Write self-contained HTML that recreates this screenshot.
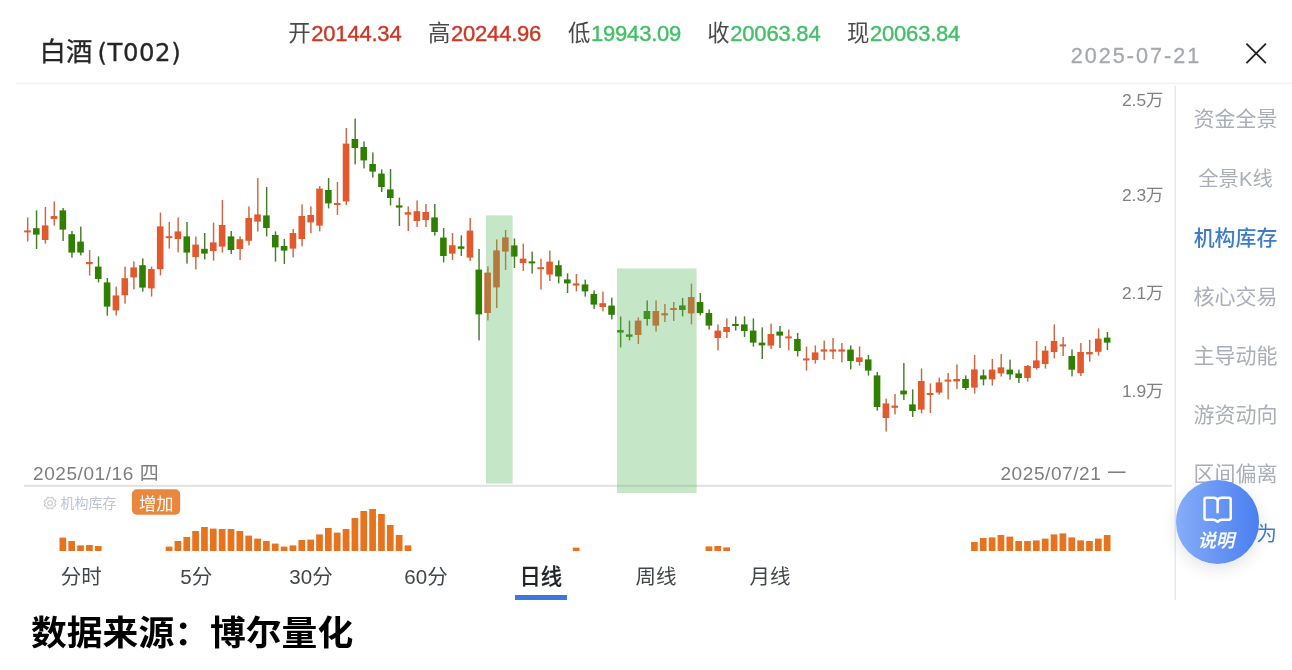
<!DOCTYPE html>
<html lang="zh-CN">
<head>
<meta charset="utf-8">
<title>白酒 (T002)</title>
<style>
html,body{margin:0;padding:0;background:#fff;}
body{width:1292px;height:670px;position:relative;overflow:hidden;font-family:"Liberation Sans", "Noto Sans CJK SC", sans-serif;color:#222;}
.abs{position:absolute;white-space:nowrap;}
.title{left:39.5px;top:34.2px;font-size:26.4px;line-height:36px;color:#262626;-webkit-text-stroke:0.3px #262626;}
.title span{font-family:"DejaVu Sans","Liberation Sans",sans-serif;font-size:24.4px;letter-spacing:0.55px;margin-left:-2.2px;position:relative;top:-0.4px;}
.ohlc{top:18.3px;margin-left:-1px;font-size:22.4px;line-height:32px;color:#4a4a4a;}
.ohlc i{font-style:normal;position:relative;top:-0.8px;}
.ohlc b{font-weight:normal;font-size:22px;letter-spacing:-0.2px;margin-left:0.6px;-webkit-text-stroke:0.4px currentColor;}
.up{color:#CE3623;}
.dn{color:#42C068;}
.date{left:1070.7px;top:40.2px;font-size:21.6px;line-height:32px;letter-spacing:2.0px;color:#A6A9AD;-webkit-text-stroke:0.3px #A6A9AD;}
.ylab{right:128.5px;font-size:17.4px;line-height:20px;color:#808080;text-align:right;}
.dlab{font-size:19px;line-height:24px;letter-spacing:0.58px;color:#7E7E7E;top:462px;}
.side{left:1177.5px;width:116px;text-align:center;font-size:21px;line-height:30px;color:#A9AEB9;}
.side.on{color:#3D7CC9;font-size:20.9px;font-weight:500;}
.last{right:15px;top:519.5px;font-size:20.4px;line-height:28px;color:#3D7DCB;}
.sub{left:60.5px;top:494px;font-size:14px;line-height:18px;color:#B9C4D6;}
.badget{left:132px;top:491.2px;width:48.6px;color:#fff;font-size:17.3px;line-height:26px;text-align:center;}
.tab{top:563px;width:100px;text-align:center;font-size:20.5px;line-height:28px;color:#41464e;}
.tab.on{color:#1f2329;font-size:21.3px;font-weight:500;-webkit-text-stroke:0.2px #1f2329;margin-left:-1.2px;}
.uline{left:515px;top:594.6px;width:52px;height:5.4px;background:#3A78DC;}
.foot{left:31px;top:607.3px;transform:scaleY(0.968);transform-origin:0 43.5px;font-size:35.8px;line-height:52px;font-weight:bold;color:#000;}
.fab{left:1175.8px;top:480px;width:83.4px;height:83.6px;border-radius:50%;background:linear-gradient(90deg,#86ADF9 0%,#4B7FF1 100%);box-shadow:0 5px 16px rgba(40,50,70,0.13);}
.fabt{left:1175.6px;top:528.2px;width:83px;text-align:center;color:#fff;font-size:18.4px;line-height:26px;font-weight:500;transform:skewX(-13deg);-webkit-text-stroke:0.15px #fff;}
svg{position:absolute;left:0;top:0;}
</style>
</head>
<body>
<div class="abs title">白酒 <span>(T002)</span></div>
<div class="abs ohlc" style="left:289.3px"><i>开</i><b class="up">20144.34</b></div>
<div class="abs ohlc" style="left:429px"><i>高</i><b class="up">20244.96</b></div>
<div class="abs ohlc" style="left:569px"><i>低</i><b class="dn">19943.09</b></div>
<div class="abs ohlc" style="left:708.3px"><i>收</i><b class="dn">20063.84</b></div>
<div class="abs ohlc" style="left:848px"><i>现</i><b class="dn">20063.84</b></div>
<div class="abs date">2025-07-21</div>
<svg width="1292" height="670" viewBox="0 0 1292 670">
<g stroke="#222" stroke-width="1.9" stroke-linecap="butt" fill="none">
<line x1="1246.4" y1="43.7" x2="1265.9" y2="63.2"/>
<line x1="1265.9" y1="43.7" x2="1246.4" y2="63.2"/>
</g>
</svg>



<div class="abs ylab" style="top:89.5px">2.5万</div>
<div class="abs ylab" style="top:185px">2.3万</div>
<div class="abs ylab" style="top:283.2px">2.1万</div>
<div class="abs ylab" style="top:381.3px">1.9万</div>

<div class="abs dlab" style="left:33px">2025/01/16 四</div>
<div class="abs dlab" style="right:165.2px">2025/07/21 一</div>


<svg width="1292" height="670" viewBox="0 0 1292 670" shape-rendering="auto">
<rect x="16" y="82.5" width="1276" height="1.7" fill="#F2F3F3"/>
<rect x="24" y="484.8" width="1148" height="2" fill="#E1E1E1"/>
<rect x="1174.6" y="85.5" width="1.3" height="514.5" fill="#E4E5E8"/>
<g id="candles">
<rect x="26.97" y="217.4" width="1.45" height="24" fill="#CE6745"/>
<rect x="24.15" y="230.4" width="6.6" height="2" fill="#E2592D"/>
<rect x="35.82" y="210.4" width="1.45" height="38.6" fill="#437F2A"/>
<rect x="33" y="228.2" width="6.6" height="6.4" fill="#2F8000"/>
<rect x="44.67" y="207" width="1.45" height="36.6" fill="#CE6745"/>
<rect x="41.85" y="225.4" width="6.6" height="14.6" fill="#E2592D"/>
<rect x="53.52" y="201.4" width="1.45" height="24.2" fill="#CE6745"/>
<rect x="50.7" y="216" width="6.6" height="3" fill="#E2592D"/>
<rect x="62.37" y="208" width="1.45" height="33" fill="#437F2A"/>
<rect x="59.55" y="210.4" width="6.6" height="19.2" fill="#2F8000"/>
<rect x="71.23" y="231" width="1.45" height="26.6" fill="#437F2A"/>
<rect x="68.4" y="234.2" width="6.6" height="18.4" fill="#2F8000"/>
<rect x="80.08" y="226.6" width="1.45" height="28.8" fill="#437F2A"/>
<rect x="77.25" y="241.6" width="6.6" height="11" fill="#2F8000"/>
<rect x="88.92" y="250" width="1.45" height="25.6" fill="#CE6745"/>
<rect x="86.1" y="262" width="6.6" height="2.2" fill="#E2592D"/>
<rect x="97.78" y="256.4" width="1.45" height="26" fill="#437F2A"/>
<rect x="94.95" y="266.6" width="6.6" height="12.4" fill="#2F8000"/>
<rect x="106.62" y="278" width="1.45" height="37.6" fill="#437F2A"/>
<rect x="103.8" y="282.4" width="6.6" height="24.2" fill="#2F8000"/>
<rect x="115.48" y="286.6" width="1.45" height="29" fill="#CE6745"/>
<rect x="112.65" y="295.4" width="6.6" height="15" fill="#E2592D"/>
<rect x="124.33" y="266.6" width="1.45" height="37" fill="#CE6745"/>
<rect x="121.5" y="278.2" width="6.6" height="17" fill="#E2592D"/>
<rect x="133.17" y="261.4" width="1.45" height="28" fill="#CE6745"/>
<rect x="130.35" y="267.4" width="6.6" height="10" fill="#E2592D"/>
<rect x="142.03" y="258.4" width="1.45" height="33.2" fill="#437F2A"/>
<rect x="139.2" y="265.2" width="6.6" height="22.4" fill="#2F8000"/>
<rect x="150.88" y="266.6" width="1.45" height="30" fill="#CE6745"/>
<rect x="148.05" y="269" width="6.6" height="19.4" fill="#E2592D"/>
<rect x="159.72" y="212.6" width="1.45" height="62.8" fill="#CE6745"/>
<rect x="156.9" y="226.4" width="6.6" height="42.8" fill="#E2592D"/>
<rect x="168.57" y="222" width="1.45" height="26.6" fill="#CE6745"/>
<rect x="165.75" y="236.2" width="6.6" height="2" fill="#E2592D"/>
<rect x="177.42" y="217.4" width="1.45" height="35" fill="#CE6745"/>
<rect x="174.6" y="231.4" width="6.6" height="7.6" fill="#E2592D"/>
<rect x="186.27" y="222" width="1.45" height="41.6" fill="#437F2A"/>
<rect x="183.45" y="236.4" width="6.6" height="16.2" fill="#2F8000"/>
<rect x="195.12" y="236.6" width="1.45" height="32.8" fill="#CE6745"/>
<rect x="192.3" y="244.6" width="6.6" height="12.4" fill="#E2592D"/>
<rect x="203.97" y="233" width="1.45" height="26.4" fill="#437F2A"/>
<rect x="201.15" y="248.8" width="6.6" height="4.8" fill="#2F8000"/>
<rect x="212.82" y="222.6" width="1.45" height="38" fill="#CE6745"/>
<rect x="210" y="242.4" width="6.6" height="8.6" fill="#E2592D"/>
<rect x="221.67" y="200" width="1.45" height="52.6" fill="#CE6745"/>
<rect x="218.85" y="225" width="6.6" height="21.6" fill="#E2592D"/>
<rect x="230.52" y="231" width="1.45" height="23" fill="#437F2A"/>
<rect x="227.7" y="236.4" width="6.6" height="13.6" fill="#2F8000"/>
<rect x="239.37" y="236.4" width="1.45" height="23.6" fill="#CE6745"/>
<rect x="236.55" y="239.2" width="6.6" height="9.8" fill="#E2592D"/>
<rect x="248.22" y="206.4" width="1.45" height="39" fill="#CE6745"/>
<rect x="245.4" y="218" width="6.6" height="22.8" fill="#E2592D"/>
<rect x="257.07" y="178" width="1.45" height="53.6" fill="#CE6745"/>
<rect x="254.25" y="214.4" width="6.6" height="7.2" fill="#E2592D"/>
<rect x="265.92" y="187" width="1.45" height="49.4" fill="#437F2A"/>
<rect x="263.1" y="215.4" width="6.6" height="12.6" fill="#2F8000"/>
<rect x="274.77" y="231.4" width="1.45" height="30.2" fill="#437F2A"/>
<rect x="271.95" y="235" width="6.6" height="12.4" fill="#2F8000"/>
<rect x="283.62" y="239" width="1.45" height="25" fill="#437F2A"/>
<rect x="280.8" y="246" width="6.6" height="4.6" fill="#2F8000"/>
<rect x="292.47" y="229" width="1.45" height="28.4" fill="#CE6745"/>
<rect x="289.65" y="233" width="6.6" height="15.6" fill="#E2592D"/>
<rect x="301.32" y="204.4" width="1.45" height="42" fill="#CE6745"/>
<rect x="298.5" y="216" width="6.6" height="23" fill="#E2592D"/>
<rect x="310.17" y="206.4" width="1.45" height="27" fill="#CE6745"/>
<rect x="307.35" y="215" width="6.6" height="7.4" fill="#E2592D"/>
<rect x="319.02" y="186" width="1.45" height="45.4" fill="#CE6745"/>
<rect x="316.2" y="188.6" width="6.6" height="37" fill="#E2592D"/>
<rect x="327.87" y="178" width="1.45" height="30.4" fill="#437F2A"/>
<rect x="325.05" y="190" width="6.6" height="13.4" fill="#2F8000"/>
<rect x="336.72" y="182" width="1.45" height="33" fill="#CE6745"/>
<rect x="333.9" y="203" width="6.6" height="2" fill="#E2592D"/>
<rect x="345.57" y="128" width="1.45" height="77" fill="#CE6745"/>
<rect x="342.75" y="143.6" width="6.6" height="57.8" fill="#E2592D"/>
<rect x="354.42" y="118.6" width="1.45" height="45.8" fill="#437F2A"/>
<rect x="351.6" y="139" width="6.6" height="9" fill="#2F8000"/>
<rect x="363.27" y="141.4" width="1.45" height="27" fill="#437F2A"/>
<rect x="360.45" y="147" width="6.6" height="13.4" fill="#2F8000"/>
<rect x="372.12" y="152.4" width="1.45" height="25.2" fill="#437F2A"/>
<rect x="369.3" y="164" width="6.6" height="7.6" fill="#2F8000"/>
<rect x="380.97" y="169.4" width="1.45" height="22.6" fill="#437F2A"/>
<rect x="378.15" y="173.6" width="6.6" height="13.4" fill="#2F8000"/>
<rect x="389.82" y="169" width="1.45" height="36.4" fill="#437F2A"/>
<rect x="387" y="189.4" width="6.6" height="8.6" fill="#2F8000"/>
<rect x="398.67" y="197.6" width="1.45" height="28.4" fill="#437F2A"/>
<rect x="395.85" y="205.4" width="6.6" height="2.2" fill="#2F8000"/>
<rect x="407.52" y="206.4" width="1.45" height="24.6" fill="#CE6745"/>
<rect x="404.7" y="212.2" width="6.6" height="2.4" fill="#E2592D"/>
<rect x="416.37" y="200.4" width="1.45" height="26.6" fill="#CE6745"/>
<rect x="413.55" y="211.2" width="6.6" height="9.8" fill="#E2592D"/>
<rect x="425.22" y="204" width="1.45" height="23" fill="#CE6745"/>
<rect x="422.4" y="212" width="6.6" height="8" fill="#E2592D"/>
<rect x="434.07" y="204" width="1.45" height="31.6" fill="#437F2A"/>
<rect x="431.25" y="217.4" width="6.6" height="14.6" fill="#2F8000"/>
<rect x="442.92" y="228" width="1.45" height="34.4" fill="#437F2A"/>
<rect x="440.1" y="237.6" width="6.6" height="18.4" fill="#2F8000"/>
<rect x="451.77" y="233" width="1.45" height="27" fill="#CE6745"/>
<rect x="448.95" y="245.2" width="6.6" height="8.4" fill="#E2592D"/>
<rect x="460.62" y="235.4" width="1.45" height="20.6" fill="#437F2A"/>
<rect x="457.8" y="246.4" width="6.6" height="2.4" fill="#2F8000"/>
<rect x="469.47" y="218" width="1.45" height="43" fill="#CE6745"/>
<rect x="466.65" y="230.6" width="6.6" height="27" fill="#E2592D"/>
<rect x="478.32" y="249" width="1.45" height="91.4" fill="#437F2A"/>
<rect x="475.5" y="269.6" width="6.6" height="44.8" fill="#2F8000"/>
<rect x="487.17" y="266.4" width="1.45" height="54" fill="#CE6745"/>
<rect x="484.35" y="272.6" width="6.6" height="40.4" fill="#E2592D"/>
<rect x="496.02" y="239.4" width="1.45" height="68.6" fill="#CE6745"/>
<rect x="493.2" y="250.4" width="6.6" height="37" fill="#E2592D"/>
<rect x="504.87" y="230" width="1.45" height="40" fill="#CE6745"/>
<rect x="502.05" y="237.4" width="6.6" height="14.2" fill="#E2592D"/>
<rect x="513.73" y="238.4" width="1.45" height="29.6" fill="#437F2A"/>
<rect x="510.9" y="245.4" width="6.6" height="11.2" fill="#2F8000"/>
<rect x="522.57" y="243.6" width="1.45" height="27.4" fill="#CE6745"/>
<rect x="519.75" y="258.6" width="6.6" height="4.4" fill="#E2592D"/>
<rect x="531.42" y="251.6" width="1.45" height="22" fill="#437F2A"/>
<rect x="528.6" y="261.4" width="6.6" height="2" fill="#2F8000"/>
<rect x="540.27" y="258.6" width="1.45" height="31" fill="#CE6745"/>
<rect x="537.45" y="267.2" width="6.6" height="2" fill="#E2592D"/>
<rect x="549.12" y="250.6" width="1.45" height="30.4" fill="#CE6745"/>
<rect x="546.3" y="261.6" width="6.6" height="13" fill="#E2592D"/>
<rect x="557.98" y="260.4" width="1.45" height="23" fill="#437F2A"/>
<rect x="555.15" y="265.2" width="6.6" height="11.2" fill="#2F8000"/>
<rect x="566.83" y="273.4" width="1.45" height="19.6" fill="#437F2A"/>
<rect x="564" y="279.4" width="6.6" height="4" fill="#2F8000"/>
<rect x="575.67" y="274" width="1.45" height="17.4" fill="#CE6745"/>
<rect x="572.85" y="283.4" width="6.6" height="2.2" fill="#E2592D"/>
<rect x="584.52" y="279.6" width="1.45" height="17" fill="#437F2A"/>
<rect x="581.7" y="284.4" width="6.6" height="7" fill="#2F8000"/>
<rect x="593.38" y="290.4" width="1.45" height="18.6" fill="#437F2A"/>
<rect x="590.55" y="294" width="6.6" height="10.6" fill="#2F8000"/>
<rect x="602.23" y="291.6" width="1.45" height="19.8" fill="#CE6745"/>
<rect x="599.4" y="303.2" width="6.6" height="3.8" fill="#E2592D"/>
<rect x="611.08" y="297.6" width="1.45" height="21.8" fill="#437F2A"/>
<rect x="608.25" y="305.6" width="6.6" height="9.2" fill="#2F8000"/>
<rect x="619.92" y="316.6" width="1.45" height="30.8" fill="#437F2A"/>
<rect x="617.1" y="330" width="6.6" height="2.6" fill="#2F8000"/>
<rect x="628.77" y="320.6" width="1.45" height="19.8" fill="#437F2A"/>
<rect x="625.95" y="334.4" width="6.6" height="2.4" fill="#2F8000"/>
<rect x="637.62" y="317.4" width="1.45" height="26.6" fill="#CE6745"/>
<rect x="634.8" y="320.6" width="6.6" height="14.4" fill="#E2592D"/>
<rect x="646.48" y="300.4" width="1.45" height="25.2" fill="#437F2A"/>
<rect x="643.65" y="311" width="6.6" height="8" fill="#2F8000"/>
<rect x="655.33" y="300.4" width="1.45" height="31.2" fill="#CE6745"/>
<rect x="652.5" y="311" width="6.6" height="14.6" fill="#E2592D"/>
<rect x="664.17" y="304" width="1.45" height="18" fill="#CE6745"/>
<rect x="661.35" y="313.2" width="6.6" height="2.2" fill="#E2592D"/>
<rect x="673.02" y="302" width="1.45" height="19" fill="#CE6745"/>
<rect x="670.2" y="308" width="6.6" height="2" fill="#E2592D"/>
<rect x="681.88" y="298" width="1.45" height="18.4" fill="#437F2A"/>
<rect x="679.05" y="305.4" width="6.6" height="4.6" fill="#2F8000"/>
<rect x="690.73" y="283.6" width="1.45" height="40.8" fill="#CE6745"/>
<rect x="687.9" y="297" width="6.6" height="16.4" fill="#E2592D"/>
<rect x="699.58" y="293" width="1.45" height="22.4" fill="#437F2A"/>
<rect x="696.75" y="302" width="6.6" height="11" fill="#2F8000"/>
<rect x="708.42" y="309.4" width="1.45" height="20.2" fill="#437F2A"/>
<rect x="705.6" y="313" width="6.6" height="12.6" fill="#2F8000"/>
<rect x="717.27" y="324.4" width="1.45" height="26" fill="#CE6745"/>
<rect x="714.45" y="330.6" width="6.6" height="7.4" fill="#E2592D"/>
<rect x="726.12" y="318.4" width="1.45" height="19.6" fill="#CE6745"/>
<rect x="723.3" y="327" width="6.6" height="5" fill="#E2592D"/>
<rect x="734.98" y="316.4" width="1.45" height="14.2" fill="#437F2A"/>
<rect x="732.15" y="324" width="6.6" height="2" fill="#2F8000"/>
<rect x="743.83" y="316.4" width="1.45" height="20.6" fill="#437F2A"/>
<rect x="741" y="324.4" width="6.6" height="6.6" fill="#2F8000"/>
<rect x="752.67" y="318.4" width="1.45" height="28.2" fill="#437F2A"/>
<rect x="749.85" y="330.6" width="6.6" height="12" fill="#2F8000"/>
<rect x="761.52" y="327.4" width="1.45" height="31.6" fill="#437F2A"/>
<rect x="758.7" y="342.6" width="6.6" height="2.8" fill="#2F8000"/>
<rect x="770.38" y="323.6" width="1.45" height="25.4" fill="#CE6745"/>
<rect x="767.55" y="334" width="6.6" height="11.6" fill="#E2592D"/>
<rect x="779.23" y="326" width="1.45" height="22" fill="#437F2A"/>
<rect x="776.4" y="331.6" width="6.6" height="4" fill="#2F8000"/>
<rect x="788.08" y="329.6" width="1.45" height="20.8" fill="#CE6745"/>
<rect x="785.25" y="336.4" width="6.6" height="2" fill="#E2592D"/>
<rect x="796.92" y="333" width="1.45" height="23.4" fill="#437F2A"/>
<rect x="794.1" y="339" width="6.6" height="12" fill="#2F8000"/>
<rect x="805.77" y="346.6" width="1.45" height="24" fill="#CE6745"/>
<rect x="802.95" y="358.4" width="6.6" height="2" fill="#E2592D"/>
<rect x="814.62" y="345.4" width="1.45" height="18.2" fill="#CE6745"/>
<rect x="811.8" y="352.4" width="6.6" height="7.6" fill="#E2592D"/>
<rect x="823.48" y="340.6" width="1.45" height="19.4" fill="#CE6745"/>
<rect x="820.65" y="349.4" width="6.6" height="2.2" fill="#E2592D"/>
<rect x="832.33" y="338" width="1.45" height="21" fill="#CE6745"/>
<rect x="829.5" y="349.4" width="6.6" height="2.2" fill="#E2592D"/>
<rect x="841.17" y="343" width="1.45" height="19.4" fill="#CE6745"/>
<rect x="838.35" y="349.4" width="6.6" height="2.2" fill="#E2592D"/>
<rect x="850.02" y="345.4" width="1.45" height="24" fill="#437F2A"/>
<rect x="847.2" y="349.6" width="6.6" height="11.4" fill="#2F8000"/>
<rect x="858.88" y="346.4" width="1.45" height="19.2" fill="#CE6745"/>
<rect x="856.05" y="357.4" width="6.6" height="4.6" fill="#E2592D"/>
<rect x="867.73" y="355" width="1.45" height="20.6" fill="#437F2A"/>
<rect x="864.9" y="359.4" width="6.6" height="11.2" fill="#2F8000"/>
<rect x="876.57" y="372" width="1.45" height="38.6" fill="#437F2A"/>
<rect x="873.75" y="375.4" width="6.6" height="31.6" fill="#2F8000"/>
<rect x="885.42" y="398.6" width="1.45" height="33" fill="#CE6745"/>
<rect x="882.6" y="403.4" width="6.6" height="14.6" fill="#E2592D"/>
<rect x="894.27" y="394" width="1.45" height="20.4" fill="#CE6745"/>
<rect x="891.45" y="405.6" width="6.6" height="2.2" fill="#E2592D"/>
<rect x="903.12" y="363" width="1.45" height="37" fill="#437F2A"/>
<rect x="900.3" y="390.6" width="6.6" height="3.8" fill="#2F8000"/>
<rect x="911.98" y="389.4" width="1.45" height="27.6" fill="#437F2A"/>
<rect x="909.15" y="404.4" width="6.6" height="6.6" fill="#2F8000"/>
<rect x="920.82" y="368.4" width="1.45" height="45" fill="#CE6745"/>
<rect x="918" y="381" width="6.6" height="28.6" fill="#E2592D"/>
<rect x="929.67" y="383.4" width="1.45" height="29.6" fill="#CE6745"/>
<rect x="926.85" y="393" width="6.6" height="2" fill="#E2592D"/>
<rect x="938.52" y="377.6" width="1.45" height="17" fill="#CE6745"/>
<rect x="935.7" y="382.4" width="6.6" height="10.2" fill="#E2592D"/>
<rect x="947.38" y="373" width="1.45" height="26.4" fill="#CE6745"/>
<rect x="944.55" y="379.6" width="6.6" height="2" fill="#E2592D"/>
<rect x="956.23" y="364.4" width="1.45" height="24.6" fill="#CE6745"/>
<rect x="953.4" y="379" width="6.6" height="2.4" fill="#E2592D"/>
<rect x="965.07" y="375.4" width="1.45" height="14.6" fill="#437F2A"/>
<rect x="962.25" y="379" width="6.6" height="9" fill="#2F8000"/>
<rect x="973.92" y="355" width="1.45" height="38.6" fill="#CE6745"/>
<rect x="971.1" y="369.4" width="6.6" height="18.2" fill="#E2592D"/>
<rect x="982.77" y="369.6" width="1.45" height="15.8" fill="#437F2A"/>
<rect x="979.95" y="375.4" width="6.6" height="4" fill="#2F8000"/>
<rect x="991.62" y="359" width="1.45" height="26.6" fill="#CE6745"/>
<rect x="988.8" y="369.6" width="6.6" height="9.8" fill="#E2592D"/>
<rect x="1000.48" y="354" width="1.45" height="22.6" fill="#CE6745"/>
<rect x="997.65" y="367.4" width="6.6" height="6" fill="#E2592D"/>
<rect x="1009.32" y="359.6" width="1.45" height="20" fill="#437F2A"/>
<rect x="1006.5" y="369.6" width="6.6" height="4.8" fill="#2F8000"/>
<rect x="1018.17" y="369.6" width="1.45" height="13.4" fill="#437F2A"/>
<rect x="1015.35" y="373.4" width="6.6" height="4.6" fill="#2F8000"/>
<rect x="1027.03" y="365" width="1.45" height="16.6" fill="#CE6745"/>
<rect x="1024.2" y="366" width="6.6" height="12" fill="#E2592D"/>
<rect x="1035.88" y="341" width="1.45" height="28.6" fill="#CE6745"/>
<rect x="1033.05" y="360.4" width="6.6" height="7.6" fill="#E2592D"/>
<rect x="1044.73" y="346" width="1.45" height="22.6" fill="#CE6745"/>
<rect x="1041.9" y="350.6" width="6.6" height="13.4" fill="#E2592D"/>
<rect x="1053.58" y="324.4" width="1.45" height="34" fill="#CE6745"/>
<rect x="1050.75" y="341" width="6.6" height="11" fill="#E2592D"/>
<rect x="1062.43" y="337" width="1.45" height="19" fill="#CE6745"/>
<rect x="1059.6" y="344.4" width="6.6" height="2" fill="#E2592D"/>
<rect x="1071.28" y="349.4" width="1.45" height="27" fill="#437F2A"/>
<rect x="1068.45" y="356" width="6.6" height="13.7" fill="#2F8000"/>
<rect x="1080.12" y="343" width="1.45" height="33" fill="#CE6745"/>
<rect x="1077.3" y="352" width="6.6" height="21.2" fill="#E2592D"/>
<rect x="1088.98" y="340" width="1.45" height="21.6" fill="#CE6745"/>
<rect x="1086.15" y="352" width="6.6" height="2.4" fill="#E2592D"/>
<rect x="1097.83" y="328.4" width="1.45" height="27.2" fill="#CE6745"/>
<rect x="1095" y="338.6" width="6.6" height="13.2" fill="#E2592D"/>
<rect x="1106.68" y="332" width="1.45" height="18" fill="#437F2A"/>
<rect x="1103.85" y="337.6" width="6.6" height="5" fill="#2F8000"/>
</g>
<rect x="486" y="215.4" width="26.6" height="268.2" fill="#5DB761" fill-opacity="0.35"/>
<rect x="617" y="268.4" width="79.6" height="224.6" fill="#5DB761" fill-opacity="0.35"/>
<rect x="131.9" y="489.2" width="48.3" height="25.5" rx="5" ry="5" fill="#E9873F"/>
<g id="bars">
<rect x="59.5" y="537.6" width="6.7" height="13.4" fill="#E8731F"/>
<rect x="68.35" y="541" width="6.7" height="10" fill="#E8731F"/>
<rect x="77.2" y="545.4" width="6.7" height="5.6" fill="#E8731F"/>
<rect x="86.05" y="545" width="6.7" height="6" fill="#E8731F"/>
<rect x="94.9" y="546" width="6.7" height="5" fill="#E8731F"/>
<rect x="165.7" y="546.6" width="6.7" height="4.4" fill="#E8731F"/>
<rect x="174.55" y="541" width="6.7" height="10" fill="#E8731F"/>
<rect x="183.4" y="537" width="6.7" height="14" fill="#E8731F"/>
<rect x="192.25" y="531" width="6.7" height="20" fill="#E8731F"/>
<rect x="201.1" y="527" width="6.7" height="24" fill="#E8731F"/>
<rect x="209.95" y="528.6" width="6.7" height="22.4" fill="#E8731F"/>
<rect x="218.8" y="529" width="6.7" height="22" fill="#E8731F"/>
<rect x="227.65" y="529" width="6.7" height="22" fill="#E8731F"/>
<rect x="236.5" y="531" width="6.7" height="20" fill="#E8731F"/>
<rect x="245.35" y="535.6" width="6.7" height="15.4" fill="#E8731F"/>
<rect x="254.2" y="538.6" width="6.7" height="12.4" fill="#E8731F"/>
<rect x="263.05" y="541" width="6.7" height="10" fill="#E8731F"/>
<rect x="271.9" y="543.6" width="6.7" height="7.4" fill="#E8731F"/>
<rect x="280.75" y="546.6" width="6.7" height="4.4" fill="#E8731F"/>
<rect x="289.6" y="545.4" width="6.7" height="5.6" fill="#E8731F"/>
<rect x="298.45" y="540" width="6.7" height="11" fill="#E8731F"/>
<rect x="307.3" y="539.6" width="6.7" height="11.4" fill="#E8731F"/>
<rect x="316.15" y="534.4" width="6.7" height="16.6" fill="#E8731F"/>
<rect x="325" y="528" width="6.7" height="23" fill="#E8731F"/>
<rect x="333.85" y="532.6" width="6.7" height="18.4" fill="#E8731F"/>
<rect x="342.7" y="529" width="6.7" height="22" fill="#E8731F"/>
<rect x="351.55" y="518" width="6.7" height="33" fill="#E8731F"/>
<rect x="360.4" y="511" width="6.7" height="40" fill="#E8731F"/>
<rect x="369.25" y="509" width="6.7" height="42" fill="#E8731F"/>
<rect x="378.1" y="514" width="6.7" height="37" fill="#E8731F"/>
<rect x="386.95" y="525" width="6.7" height="26" fill="#E8731F"/>
<rect x="395.8" y="535" width="6.7" height="16" fill="#E8731F"/>
<rect x="404.65" y="545.4" width="6.7" height="5.6" fill="#E8731F"/>
<rect x="572.8" y="547.6" width="6.7" height="3.4" fill="#E8731F"/>
<rect x="705.55" y="546.4" width="6.7" height="4.6" fill="#E8731F"/>
<rect x="714.4" y="546" width="6.7" height="5" fill="#E8731F"/>
<rect x="723.25" y="547.4" width="6.7" height="3.6" fill="#E8731F"/>
<rect x="971.05" y="542" width="6.7" height="9" fill="#E8731F"/>
<rect x="979.9" y="538" width="6.7" height="13" fill="#E8731F"/>
<rect x="988.75" y="537.4" width="6.7" height="13.6" fill="#E8731F"/>
<rect x="997.6" y="535" width="6.7" height="16" fill="#E8731F"/>
<rect x="1006.45" y="536.6" width="6.7" height="14.4" fill="#E8731F"/>
<rect x="1015.3" y="541" width="6.7" height="10" fill="#E8731F"/>
<rect x="1024.15" y="541" width="6.7" height="10" fill="#E8731F"/>
<rect x="1033" y="540.4" width="6.7" height="10.6" fill="#E8731F"/>
<rect x="1041.85" y="538.6" width="6.7" height="12.4" fill="#E8731F"/>
<rect x="1050.7" y="534.4" width="6.7" height="16.6" fill="#E8731F"/>
<rect x="1059.55" y="533.4" width="6.7" height="17.6" fill="#E8731F"/>
<rect x="1068.4" y="537.4" width="6.7" height="13.6" fill="#E8731F"/>
<rect x="1077.25" y="540.4" width="6.7" height="10.6" fill="#E8731F"/>
<rect x="1086.1" y="541" width="6.7" height="10" fill="#E8731F"/>
<rect x="1094.95" y="538.6" width="6.7" height="12.4" fill="#E8731F"/>
<rect x="1103.8" y="535" width="6.7" height="16" fill="#E8731F"/>
</g>
<g fill="none" stroke="#CACACA" stroke-width="1.1" stroke-linejoin="round">
<circle cx="50" cy="503" r="2.3"/>
<path d="M54.93 503.86 L55.81 504.50 L55.17 506.05 L54.09 505.88 L52.88 507.09 L53.05 508.17 L51.50 508.81 L50.86 507.93 L49.14 507.93 L48.50 508.81 L46.95 508.17 L47.12 507.09 L45.91 505.88 L44.83 506.05 L44.19 504.50 L45.07 503.86 L45.07 502.14 L44.19 501.50 L44.83 499.95 L45.91 500.12 L47.12 498.91 L46.95 497.83 L48.50 497.19 L49.14 498.07 L50.86 498.07 L51.50 497.19 L53.05 497.83 L52.88 498.91 L54.09 500.12 L55.17 499.95 L55.81 501.50 L54.93 502.14 Z"/>
</g>
</svg>

<div class="abs sub">机构库存</div>
<div class="abs badget">增加</div>

<div class="abs side" style="top:104px">资金全景</div>
<div class="abs side" style="top:164px;font-size:20.3px;">全景K线</div>
<div class="abs side on" style="top:222.5px">机构库存</div>
<div class="abs side" style="top:281.5px">核心交易</div>
<div class="abs side" style="top:340.5px">主导动能</div>
<div class="abs side" style="top:399.5px">游资动向</div>
<div class="abs side" style="top:458.5px">区间偏离</div>
<div class="abs last">主力行为</div>

<div class="abs fab"></div>
<svg width="1292" height="670" viewBox="0 0 1292 670">
<g fill="none" stroke="#fff" stroke-width="2.5" stroke-linejoin="round" stroke-linecap="round">
<path d="M1217.6 501.8 Q1217.6 497.8 1213.4 497.8 L1206.3 497.8 Q1204.5 497.8 1204.5 499.6 L1204.5 518 Q1204.5 519.8 1206.3 519.8 L1213.6 519.8 Q1215.2 519.8 1217.6 521.7 Q1220 519.8 1221.6 519.8 L1228.9 519.8 Q1230.7 519.8 1230.7 518 L1230.7 499.6 Q1230.7 497.8 1228.9 497.8 L1221.8 497.8 Q1217.6 497.8 1217.6 501.8 L1217.6 512.3"/>
</g>
</svg>
<div class="abs fabt">说明</div>

<div class="abs tab" style="left:31.3px">分时</div>
<div class="abs tab" style="left:146.3px">5分</div>
<div class="abs tab" style="left:261px">30分</div>
<div class="abs tab" style="left:376px">60分</div>
<div class="abs tab on" style="left:492px">日线</div>
<div class="abs tab" style="left:606px">周线</div>
<div class="abs tab" style="left:720px">月线</div>
<div class="abs uline"></div>

<div class="abs foot">数据来源：博尔量化</div>
</body>
</html>
